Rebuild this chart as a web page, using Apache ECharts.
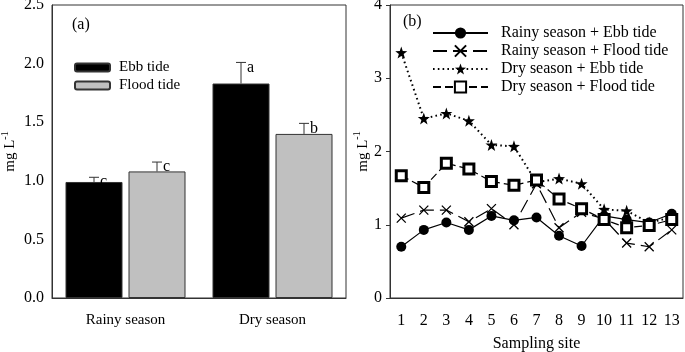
<!DOCTYPE html>
<html>
<head>
<meta charset="utf-8">
<script src="https://cdn.jsdelivr.net/npm/echarts@6/dist/echarts.min.js"></script>
<style>
  html, body { margin: 0; padding: 0; background: #fff; }
  #chart { width: 685px; height: 352px; }
</style>
</head>
<body>
<div id="chart"></div>
<script>
// panel (a): mean concentration by season and tide
const seasons = ["Rainy season", "Dry season"];
const ebbMean = [0.99, 1.83];
const floodMean = [1.08, 1.40];
const ebbTop = [1.03, 2.01];     // top of error bar
const floodTop = [1.16, 1.49];
const ebbLetter = ["c", "a"];
const floodLetter = ["c", "b"];

// panel (b): by sampling site
const sites = ["1", "2", "3", "4", "5", "6", "7", "8", "9", "10", "11", "12", "13"];
const rainyEbb = [0.70, 0.93, 1.03, 0.93, 1.12, 1.06, 1.10, 0.85, 0.71, 1.12, 1.07, 1.03, 1.15];
const rainyFlood = [1.09, 1.20, 1.20, 1.04, 1.22, 1.00, 1.56, 0.96, 1.17, 1.08, 0.75, 0.70, 0.93];
const dryEbb = [3.35, 2.45, 2.52, 2.42, 2.09, 2.07, 1.58, 1.63, 1.56, 1.21, 1.19, 1.03, 1.10];
const dryFlood = [1.67, 1.51, 1.84, 1.76, 1.59, 1.54, 1.61, 1.35, 1.22, 1.07, 0.96, 0.99, 1.07];

const font = "Liberation Serif";
const axisCol = "#333";
const barW = 57, barGapPx = 6;

const starPath = "path://M10,0L12.35,6.76L19.51,6.91L13.8,11.24L15.88,18.09L10,14L4.12,18.09L6.2,11.24L0.49,6.91L7.65,6.76Z";
const crossPath = "path://M0,0L10,10M10,0L0,10";

// error bars + letters as one custom series
const errData = [];
seasons.forEach((s, i) => {
  errData.push([i, 0, ebbMean[i], ebbTop[i], ebbLetter[i]]);
  errData.push([i, 1, floodMean[i], floodTop[i], floodLetter[i]]);
});

function renderErr(params, api) {
  const ci = api.value(0), side = api.value(1);
  const base = api.coord([ci, api.value(2)]);
  const top = api.coord([ci, api.value(3)]);
  const off = (side === 0 ? -1 : 1) * (barW + barGapPx) / 2;
  const x = base[0] + off;
  const cap = 5;
  return {
    type: "group",
    children: [
      { type: "line", shape: { x1: x, y1: base[1], x2: x, y2: top[1] }, style: { stroke: axisCol, lineWidth: 1 } },
      { type: "line", shape: { x1: x - cap, y1: top[1], x2: x + cap, y2: top[1] }, style: { stroke: axisCol, lineWidth: 1 } },
      { type: "text", x: x + 6, y: top[1] - 3,
        style: { text: errData[params.dataIndex][4], fill: "#000", font: "16px " + font, textVerticalAlign: "top" } }
    ]
  };
}

const nameRich = {
  a: { fontFamily: font, fontSize: 15, color: "#000", lineHeight: 18, verticalAlign: "bottom" },
  b: { fontFamily: font, fontSize: 10, color: "#000", lineHeight: 18, verticalAlign: "top" }
};

const chart = echarts.init(document.getElementById("chart"));
chart.setOption({
  animation: false,
  backgroundColor: "#fff",
  textStyle: { fontFamily: font, color: "#000" },
  grid: [
    { left: 52, right: 339, top: 5, bottom: 54, outerBoundsMode: "none", containLabel: false,
      show: true, borderColor: axisCol, borderWidth: 1 },
    { left: 390, right: 2, top: 5, bottom: 54, outerBoundsMode: "none", containLabel: false,
      show: true, borderColor: axisCol, borderWidth: 1 }
  ],
  graphic: [
    { type: "text", left: 72, top: 17, style: { text: "(a)", font: "16px " + font, fill: "#000" } },
    { type: "text", left: 403, top: 14, style: { text: "(b)", font: "16px " + font, fill: "#000" } }
  ],
  legend: [
    {
      data: ["Ebb tide", "Flood tide"],
      orient: "vertical", left: 69, top: 55,
      itemWidth: 35, itemHeight: 8, itemGap: 3,
      textStyle: { fontFamily: font, fontSize: 15, color: "#000", padding: [0, 0, 0, 4] }
    },
    {
      data: ["Rainy season + Ebb tide", "Rainy season + Flood tide", "Dry season + Ebb tide", "Dry season + Flood tide"],
      orient: "vertical", left: 427, top: 20,
      itemWidth: 55, itemHeight: 14, itemGap: 2,
      textStyle: { fontFamily: font, fontSize: 16, color: "#000", padding: [0, 0, 0, 8] }
    }
  ],
  xAxis: [
    {
      type: "category", gridIndex: 0, data: seasons,
      axisLine: { lineStyle: { color: axisCol } },
      axisTick: { alignWithLabel: true, length: 5, lineStyle: { color: axisCol } },
      axisLabel: { fontFamily: font, fontSize: 15, color: "#000", margin: 15 }
    },
    {
      type: "category", gridIndex: 1, data: sites,
      name: "Sampling site", nameLocation: "middle", nameGap: 38,
      nameTextStyle: { fontFamily: font, fontSize: 16, color: "#000" },
      axisLine: { lineStyle: { color: axisCol } },
      axisTick: { alignWithLabel: true, length: 5, lineStyle: { color: axisCol } },
      axisLabel: { fontFamily: font, fontSize: 16, color: "#000", margin: 15, interval: 0 }
    }
  ],
  yAxis: [
    {
      type: "value", gridIndex: 0, min: 0, max: 2.5, interval: 0.5,
      name: "{a|mg L}{b|-1}", nameLocation: "middle", nameGap: 34, nameRotate: 90,
      nameTextStyle: { rich: nameRich },
      axisLine: { show: true, lineStyle: { color: axisCol } },
      axisTick: { show: false },
      splitLine: { show: false },
      axisLabel: { fontFamily: font, fontSize: 16, color: "#000", margin: 8, formatter: v => v.toFixed(1) }
    },
    {
      type: "value", gridIndex: 1, min: 0, max: 4, interval: 1,
      name: "{a|mg L}{b|-1}", nameLocation: "middle", nameGap: 19, nameRotate: 90,
      nameTextStyle: { rich: nameRich },
      axisLine: { show: true, lineStyle: { color: axisCol } },
      axisTick: { show: true, length: 4, lineStyle: { color: axisCol } },
      splitLine: { show: false },
      axisLabel: { fontFamily: font, fontSize: 16, color: "#000", margin: 8 }
    }
  ],
  series: [
    {
      name: "Ebb tide", type: "bar", xAxisIndex: 0, yAxisIndex: 0, data: ebbMean,
      barWidth: barW, barGap: (barGapPx / barW * 100) + "%",
      itemStyle: { color: "#000", borderColor: axisCol, borderWidth: 1 }
    },
    {
      name: "Flood tide", type: "bar", xAxisIndex: 0, yAxisIndex: 0, data: floodMean,
      barWidth: barW,
      itemStyle: { color: "#c0c0c0", borderColor: axisCol, borderWidth: 1 }
    },
    {
      type: "custom", xAxisIndex: 0, yAxisIndex: 0, data: errData,
      renderItem: renderErr, z: 5
    },
    {
      name: "Rainy season + Ebb tide", type: "line", xAxisIndex: 1, yAxisIndex: 1, data: rainyEbb,
      symbol: "circle", symbolSize: 10,
      lineStyle: { color: "#000", width: 1.2, type: "solid" },
      itemStyle: { color: "#000" }
    },
    {
      name: "Rainy season + Flood tide", type: "line", xAxisIndex: 1, yAxisIndex: 1, data: rainyFlood,
      symbol: crossPath, symbolSize: 9,
      lineStyle: { color: "#000", width: 1.2, type: [14, 6] },
      itemStyle: { color: "#000", borderColor: "#000", borderWidth: 1.3 }
    },
    {
      name: "Dry season + Ebb tide", type: "line", xAxisIndex: 1, yAxisIndex: 1, data: dryEbb,
      symbol: starPath, symbolSize: 12,
      lineStyle: { color: "#000", width: 2, type: [1.6, 3.2] },
      itemStyle: { color: "#000" }
    },
    {
      name: "Dry season + Flood tide", type: "line", xAxisIndex: 1, yAxisIndex: 1, data: dryFlood,
      symbol: "rect", symbolSize: 10,
      lineStyle: { color: "#000", width: 1.2, type: [8, 4] },
      itemStyle: { color: "#fff", borderColor: "#000", borderWidth: 3 }
    }
  ]
});
</script>
</body>
</html>
